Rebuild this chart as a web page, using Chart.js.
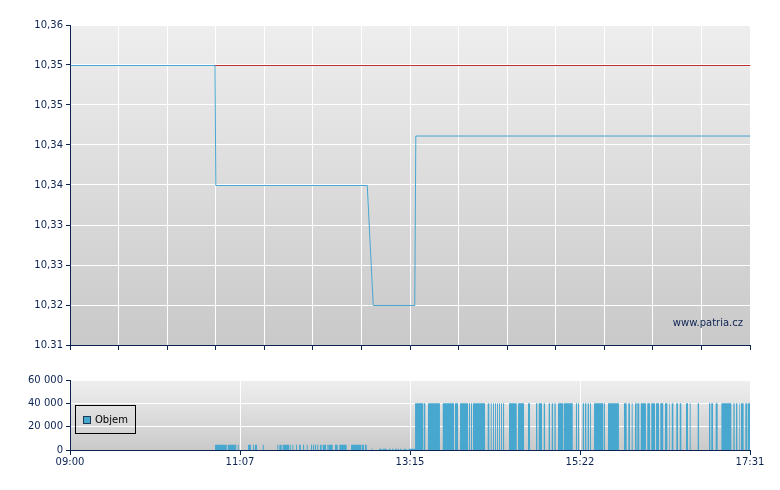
<!DOCTYPE html>
<html>
<head>
<meta charset="utf-8">
<script src="https://cdn.jsdelivr.net/npm/chart.js@4.4.1/dist/chart.umd.min.js"></script>
<style>
  html, body { margin: 0; padding: 0; background: #fff; }
  #wrap { position: relative; width: 780px; height: 490px; }
  canvas { position: absolute; left: 0; }
  #price { top: 0; }
  #volume { top: 360px; }
</style>
</head>
<body>
<div id="wrap">
  <canvas id="price" width="780" height="360"></canvas>
  <canvas id="volume" width="780" height="130"></canvas>
</div>
<script>
/* global Chart */

// minutes since 09:00, session runs to 17:31
const sessionMinutes = 511;

const priceMin = 10.31;
const priceMax = 10.36;
const priceTickLabels = ['10.31', '10,32', '10,33', '10,33', '10,34', '10,34', '10,35', '10,35', '10,36'];

const priceTimes = [0, 108.6, 109.2, 223.0, 227.5, 258.7, 259.5, 511];
const priceValues = [10.35375, 10.35375, 10.335, 10.335, 10.31625, 10.31625, 10.34273, 10.34273];
const prevClose = 10.35375;

const volumeTickValues = [0, 20000, 40000, 60000];
const volumeTickLabels = ['0', '20 000', '40 000', '60 000'];
const timeLabels = ['09:00', '11:07', '13:15', '15:22', '17:31'];

// [start minute, end minute, volume]
const volumeBars = [
  [109.0, 117.8, 4500], [118.5, 124.7, 4500], [125.3, 125.7, 4500], [126.5, 127.0, 4500],
  [133.8, 136.0, 4500], [137.5, 138.3, 4500], [139.0, 140.5, 4500], [144.8, 145.6, 4500],
  [155.8, 156.5, 4500], [157.3, 159.1, 4500], [159.8, 164.8, 4500], [165.3, 165.9, 4500],
  [167.1, 167.8, 4500], [169.8, 170.6, 4500], [172.1, 173.4, 4500], [175.1, 175.9, 4500],
  [177.9, 178.6, 4500], [181.1, 181.9, 4500], [182.6, 183.4, 4500], [184.1, 184.9, 4500],
  [185.8, 186.6, 4500], [187.9, 189.1, 4500], [189.9, 192.4, 4500], [193.1, 193.6, 4500],
  [194.1, 197.4, 4500], [199.1, 201.2, 4500], [202.4, 207.9, 4500], [211.2, 218.9, 4500],
  [219.4, 220.9, 4500], [221.7, 223.0, 4500],
  [226.7, 227.5, 1000], [232.2, 234.2, 1000], [235.0, 238.0, 1000], [239.5, 241.0, 1000],
  [242.0, 243.0, 1000], [244.2, 245.5, 1000], [246.3, 247.2, 1000], [248.0, 249.0, 1000],
  [250.5, 251.5, 1000], [252.0, 253.0, 1000], [254.5, 259.3, 1000],
  [259.3, 265.5, 40000], [266.0, 267.0, 40000], [269.0, 278.0, 40000], [280.1, 288.6, 40000],
  [289.3, 291.6, 40000], [293.1, 299.1, 40000], [299.8, 300.6, 40000], [301.3, 302.1, 40000],
  [302.8, 311.9, 40000], [313.9, 315.1, 40000], [316.2, 316.9, 40000], [317.9, 318.6, 40000],
  [319.4, 320.1, 40000], [320.9, 321.6, 40000], [322.4, 323.1, 40000], [323.9, 324.6, 40000],
  [325.4, 326.2, 40000], [329.9, 335.7, 40000], [336.7, 341.2, 40000], [344.2, 345.7, 40000],
  [350.2, 351.2, 40000], [352.2, 354.7, 40000], [356.0, 357.0, 40000], [359.7, 360.7, 40000],
  [362.0, 363.0, 40000], [364.0, 365.0, 40000], [366.7, 370.7, 40000], [371.2, 377.8, 40000],
  [380.2, 381.0, 40000], [381.7, 382.5, 40000], [385.3, 386.3, 40000], [387.0, 388.0, 40000],
  [389.0, 390.0, 40000], [390.8, 391.5, 40000], [393.8, 400.8, 40000], [401.3, 402.0, 40000],
  [404.3, 412.5, 40000], [416.3, 418.3, 40000], [419.6, 420.8, 40000], [422.1, 422.8, 40000],
  [424.6, 425.8, 40000], [426.3, 427.8, 40000], [428.9, 432.8, 40000], [433.8, 435.9, 40000],
  [436.8, 439.6, 40000], [440.4, 442.6, 40000], [443.6, 445.8, 40000], [447.1, 448.9, 40000],
  [450.4, 450.9, 40000], [452.2, 453.4, 40000], [455.6, 456.9, 40000], [458.2, 459.4, 40000],
  [462.9, 464.4, 40000], [465.7, 466.4, 40000], [471.7, 472.7, 40000], [480.2, 481.2, 40000],
  [481.9, 483.2, 40000], [485.2, 486.7, 40000], [489.5, 497.0, 40000], [498.5, 499.5, 40000],
  [500.5, 501.5, 40000], [503.0, 503.5, 40000], [504.2, 506.2, 40000], [507.5, 509.0, 40000],
  [509.5, 511.0, 40000]
];

const navy = '#0c2352';
const blue = '#47a7cf';

Chart.defaults.font.family = '"DejaVu Sans", Verdana, sans-serif';
Chart.defaults.font.size = 10;
Chart.defaults.color = navy;
Chart.defaults.animation = false;

const plotBackground = {
  id: 'plotBackground',
  beforeDraw(chart, args, opts) {
    const { ctx, chartArea: a } = chart;
    const g = ctx.createLinearGradient(0, a.top, 0, a.bottom);
    g.addColorStop(0, opts.top);
    g.addColorStop(1, opts.bottom);
    ctx.save();
    ctx.fillStyle = g;
    ctx.fillRect(a.left, a.top, a.right - a.left, a.bottom - a.top);
    ctx.restore();
  }
};

// shift thin lines by half a pixel so they stay sharp
const crispLines = {
  id: 'crispLines',
  beforeDatasetsDraw(chart) { chart.ctx.save(); chart.ctx.translate(0.5, 0.5); },
  afterDatasetsDraw(chart) { chart.ctx.restore(); }
};

const watermark = {
  id: 'watermark',
  afterDraw(chart) {
    const { ctx, chartArea: a } = chart;
    ctx.save();
    ctx.font = '10px "DejaVu Sans", Verdana, sans-serif';
    ctx.fillStyle = navy;
    ctx.textAlign = 'right';
    ctx.textBaseline = 'middle';
    ctx.fillText('www.patria.cz', a.right - 7, a.bottom - 22);
    ctx.restore();
  }
};

const boxLegend = {
  id: 'boxLegend',
  afterDraw(chart) {
    const { ctx, chartArea: a } = chart;
    const ds = chart.data.datasets[0];
    const x = a.left + 5.5, y = a.top + 25.5;
    ctx.save();
    ctx.strokeStyle = '#000';
    ctx.lineWidth = 1;
    ctx.strokeRect(x, y, 60, 28);
    ctx.fillStyle = ds.backgroundColor;
    ctx.fillRect(x + 8, y + 11, 7, 7);
    ctx.strokeStyle = '#1a3a55';
    ctx.strokeRect(x + 8, y + 11, 7, 7);
    ctx.fillStyle = '#000';
    ctx.font = '10px "DejaVu Sans", Verdana, sans-serif';
    ctx.textAlign = 'left';
    ctx.textBaseline = 'middle';
    ctx.fillText(ds.label, x + 19.5, y + 14.5);
    ctx.restore();
  }
};

function axisGrid(tickLength) {
  return { color: '#ffffff', lineWidth: 1, tickColor: navy, tickLength: tickLength };
}

new Chart('price', {
  type: 'line',
  data: {
    datasets: [{
      label: 'Cena',
      data: priceTimes.map((t, i) => ({ x: t, y: priceValues[i] })),
      borderColor: blue,
      borderWidth: 1,
      pointRadius: 0,
      fill: false,
      order: 0
    }, {
      label: 'Předchozí',
      data: [{ x: 0, y: prevClose }, { x: sessionMinutes, y: prevClose }],
      borderColor: '#c03030',
      borderWidth: 1,
      pointRadius: 0,
      fill: false,
      order: 1
    }]
  },
  options: {
    responsive: false,
    events: [],
    layout: { padding: { top: 25, right: 30, left: 0, bottom: 0 } },
    plugins: {
      legend: { display: false },
      tooltip: { enabled: false },
      plotBackground: { top: '#eeeeee', bottom: '#c9c9c9' }
    },
    scales: {
      x: {
        type: 'linear',
        min: 0,
        max: sessionMinutes,
        afterBuildTicks: s => { s.ticks = Array.from({ length: 15 }, (_, i) => ({ value: i * sessionMinutes / 14 })); },
        afterFit: s => { s.height = 15; },
        ticks: { display: false },
        grid: axisGrid(5),
        border: { color: navy, width: 1 }
      },
      y: {
        min: priceMin,
        max: priceMax,
        afterBuildTicks: s => {
          const n = priceTickLabels.length - 1;
          s.ticks = priceTickLabels.map((_, i) => ({ value: priceMin + i * (priceMax - priceMin) / n }));
        },
        afterFit: s => { s.width = 70; },
        ticks: { callback: (v, i) => priceTickLabels[i], padding: 3, autoSkip: false },
        grid: axisGrid(4),
        border: { color: navy, width: 1 }
      }
    }
  },
  plugins: [plotBackground, crispLines, watermark]
});

const volumePoints = [{ x: 0, y: 0 }];
volumeBars.forEach(([s, e, v]) => {
  volumePoints.push({ x: s, y: v }, { x: e, y: 0 });
});

new Chart('volume', {
  type: 'line',
  data: {
    datasets: [{
      label: 'Objem',
      data: volumePoints,
      stepped: true,
      fill: 'origin',
      backgroundColor: blue,
      borderColor: 'rgba(0,0,0,0)',
      borderWidth: 0,
      pointRadius: 0
    }]
  },
  options: {
    responsive: false,
    events: [],
    layout: { padding: { top: 20, right: 30, left: 0, bottom: 0 } },
    plugins: {
      legend: { display: false },
      tooltip: { enabled: false },
      plotBackground: { top: '#efefef', bottom: '#cacaca' }
    },
    scales: {
      x: {
        type: 'linear',
        min: 0,
        max: sessionMinutes,
        afterBuildTicks: s => {
          const n = timeLabels.length - 1;
          s.ticks = timeLabels.map((_, i) => ({ value: i * sessionMinutes / n }));
        },
        afterFit: s => { s.height = 40; },
        ticks: { callback: (v, i) => timeLabels[i], padding: 1, maxRotation: 0, autoSkip: false },
        grid: axisGrid(5),
        border: { color: navy, width: 1 }
      },
      y: {
        min: 0,
        max: 60000,
        afterBuildTicks: s => { s.ticks = volumeTickValues.map(v => ({ value: v })); },
        afterFit: s => { s.width = 70; },
        ticks: { callback: (v, i) => volumeTickLabels[i], padding: 3, autoSkip: false },
        grid: axisGrid(4),
        border: { color: navy, width: 1 }
      }
    }
  },
  plugins: [plotBackground, boxLegend]
});
</script>
</body>
</html>
